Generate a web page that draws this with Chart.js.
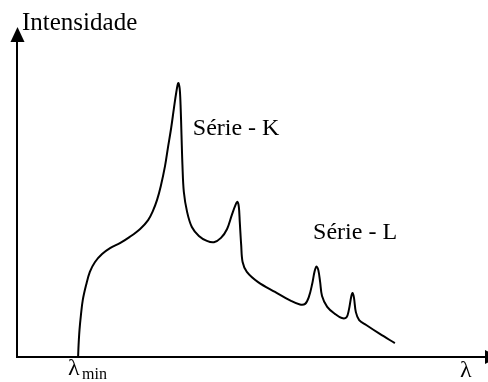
<!DOCTYPE html>
<html>
<head>
<meta charset="utf-8">
<script src="https://cdn.jsdelivr.net/npm/chart.js@4/dist/chart.umd.min.js"></script>
<style>
  html, body { margin: 0; padding: 0; background: #fff; }
  canvas { display: block; }
</style>
</head>
<body>
<canvas id="myChart" width="488" height="382"></canvas>
<script>
// X-ray spectrum: continuous bremsstrahlung plus K and L characteristic lines
// wavelength in arbitrary units (0-100), intensity in arbitrary units (0-100)
let wavelength = [13.0, 13.1, 13.3, 13.6, 14.0, 14.7, 15.5, 16.6, 18.1, 19.8, 21.9, 24.0, 26.2, 27.9, 28.9,
  29.8, 30.6, 31.5, 32.1, 32.8, 33.4, 33.9, 34.3, 34.6, 34.8, 35.0, 35.2, 35.5, 36.2, 37.2, 38.7, 40.4,
  41.9, 43.4, 44.7, 45.7, 46.5, 46.9, 47.2, 47.4, 47.7, 48.0, 48.9, 51.3, 54.9, 58.3, 60.2, 61.3, 62.1,
  62.8, 63.3, 63.7, 64.1, 64.5, 64.9, 66.0, 67.7, 69.1, 70.1, 70.6, 71.1, 71.4, 71.7, 72.1, 72.8, 74.3,
  77.2, 80.4];
let intensity = [0, 3.6, 8.2, 12.7, 17.3, 21.8, 25.8, 28.8, 31.2, 33.0, 34.5, 36.4, 38.8, 41.5, 44.2,
  47.6, 51.8, 57.9, 63.3, 69.4, 75.5, 80.3, 83.0, 81.5, 76.4, 67.3, 58.2, 50.0, 43.9, 39.4, 36.7, 35.2,
  34.8, 36.1, 38.8, 43.0, 46.1, 47.0, 45.5, 40.9, 33.9, 28.8, 25.8, 22.7, 19.7, 17.0, 15.9, 16.1, 18.2,
  22.1, 25.8, 27.4, 26.4, 22.7, 18.5, 15.2, 13.0, 11.8, 12.0, 14.2, 18.2, 19.4, 17.9, 13.6, 11.2, 9.7,
  7.0, 4.2];

// series labels and where they sit (data units)
let seriesNames = ['Série - K', 'Série - L'];
let seriesNameX = [37.4, 63.0];
let seriesNameY = [67.3, 35.8];

let yTitle = 'Intensidade';
let xTitle = 'λ';

const serif = '"Liberation Serif", "Times New Roman", serif';

const axesPlugin = {
  id: 'axesPlugin',
  afterDraw(chart) {
    const ctx = chart.ctx;
    const a = chart.chartArea;
    const xs = chart.scales.x;
    const ys = chart.scales.y;
    ctx.save();
    ctx.strokeStyle = '#000';
    ctx.fillStyle = '#000';
    ctx.lineWidth = 2;

    // vertical axis with arrow
    ctx.beginPath();
    ctx.moveTo(17, a.bottom + 1);
    ctx.lineTo(17, a.top + 14);
    ctx.stroke();
    ctx.beginPath();
    ctx.moveTo(17.5, a.top);
    ctx.lineTo(10.5, a.top + 15);
    ctx.lineTo(24.5, a.top + 15);
    ctx.closePath();
    ctx.fill();

    // horizontal axis with arrow (head runs past the edge)
    ctx.beginPath();
    ctx.moveTo(16, a.bottom);
    ctx.lineTo(486, a.bottom);
    ctx.stroke();
    ctx.beginPath();
    ctx.moveTo(485, a.bottom - 7);
    ctx.lineTo(500, a.bottom);
    ctx.lineTo(485, a.bottom + 7);
    ctx.closePath();
    ctx.fill();

    // titles
    ctx.textBaseline = 'alphabetic';
    ctx.textAlign = 'left';
    ctx.font = '25px ' + serif;
    ctx.fillText(yTitle, 22, 30);
    ctx.font = '24px ' + serif;
    ctx.fillText(xTitle, 460, 377);

    // lambda min under the start of the curve
    const x0 = xs.getPixelForValue(wavelength[0]);
    ctx.fillText('λ', x0 - 10, 375);
    ctx.font = '16px ' + serif;
    ctx.fillText('min', x0 + 4, 379);

    // series labels
    ctx.font = '24px ' + serif;
    seriesNames.forEach((name, i) => {
      ctx.fillText(name, xs.getPixelForValue(seriesNameX[i]), ys.getPixelForValue(seriesNameY[i]));
    });
    ctx.restore();
  }
};

let ctx = document.getElementById('myChart').getContext('2d');
let myChart = new Chart(ctx, {
  type: 'line',
  data: {
    datasets: [{
      data: wavelength.map((w, i) => ({ x: w, y: intensity[i] })),
      borderColor: '#000',
      borderWidth: 2,
      pointRadius: 0,
      fill: false,
      tension: 0.35
    }]
  },
  options: {
    responsive: false,
    animation: false,
    layout: {
      padding: { left: 17, top: 27, right: 1, bottom: 25 }
    },
    scales: {
      x: { type: 'linear', min: 0, max: 100, display: false },
      y: { type: 'linear', min: 0, max: 100, display: false }
    },
    plugins: {
      legend: { display: false },
      tooltip: { enabled: false }
    }
  },
  plugins: [axesPlugin]
});
</script>
</body>
</html>
